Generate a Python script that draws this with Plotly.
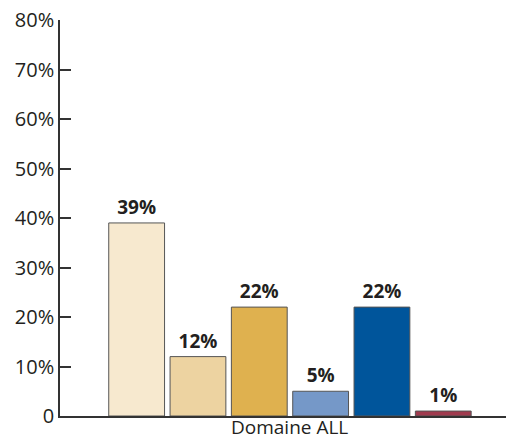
import plotly.graph_objects as go

category = ["Domaine ALL"]
series_names = ["S1", "S2", "S3", "S4", "S5", "S6"]
values = [39, 12, 22, 5, 22, 1]
colors = ["#F7E9CF", "#EDD3A1", "#DFB14F", "#7598C8", "#00559B", "#A03B4F"]
tick_vals = [0, 10, 20, 30, 40, 50, 60, 70, 80]
tick_text = ["0", "10%", "20%", "30%", "40%", "50%", "60%", "70%", "80%"]

FONT = "Open Sans"

fig = go.Figure()
for name, v, c in zip(series_names, values, colors):
    fig.add_trace(go.Bar(
        x=category, y=[v], name=name,
        marker=dict(color=c, line=dict(color="#555555", width=1)),
        text=[f"{v}%"], textposition="outside", cliponaxis=False,
        textfont=dict(family=FONT, size=19, color="#231F20", weight="bold"),
    ))

fig.update_layout(
    width=506, height=441,
    margin=dict(l=60, r=0, t=20, b=25),
    paper_bgcolor="white", plot_bgcolor="white",
    showlegend=False,
    barmode="group", bargap=0.175, bargroupgap=0.09,
    font=dict(family=FONT, size=20, color="#231F20"),
)
fig.update_xaxes(
    type="category", range=[-0.5156, 0.4844],
    showline=True, linecolor="#333333", linewidth=1.5,
    ticks="", showgrid=False, automargin=False, showticklabels=False,
)
fig.add_annotation(
    x=category[0], xref="x", y=0, yref="paper",
    text=category[0], showarrow=False,
    yanchor="bottom", yshift=-25, borderpad=0,
    font=dict(family=FONT, size=19, color="#231F20"),
)
fig.update_yaxes(
    range=[0, 80], tickvals=tick_vals, ticktext=tick_text,
    showline=True, linecolor="#333333", linewidth=1.5,
    ticks="inside", ticklen=11, tickcolor="#333333", tickwidth=1.5,
    showgrid=False, zeroline=False, automargin=False,
    tickfont=dict(family=FONT, size=20, color="#231F20"),
)

fig.write_html(
    "out.html",
    config={"displayModeBar": False},
    post_script="document.body.style.margin='0';document.body.style.overflow='hidden';",
)
